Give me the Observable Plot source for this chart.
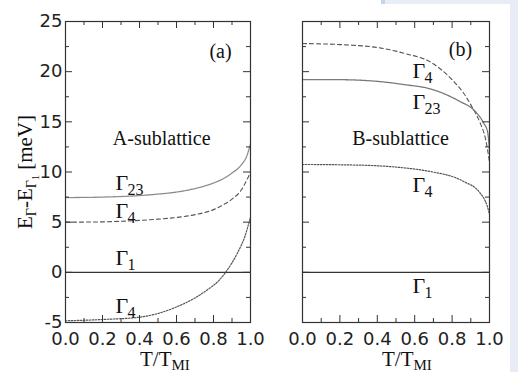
<!DOCTYPE html>
<html><head><meta charset="utf-8">
<script src="https://cdn.jsdelivr.net/npm/d3@7"></script>
<script src="https://cdn.jsdelivr.net/npm/@observablehq/plot@0.6"></script>
<style>
body{margin:0;background:#fff;}
#wrap{position:relative;width:518px;height:372px;overflow:hidden;background:#fff}
#wrap svg{position:absolute;top:0;overflow:visible;background:transparent}
.bg{position:absolute}
</style></head><body><div id="wrap">
<div class="bg" style="left:381px;top:0;width:4px;height:4px;background:#c6d4ea"></div>
<div class="bg" style="left:385px;top:0;width:133px;height:4px;background:#e8edf5"></div>
<div class="bg" style="left:510px;top:0;width:8px;height:372px;background:#e8edf5"></div>
</div>
<script>
// ---- data: panel (a) A-sublattice ----
const aG23T = [0, 0.2, 0.4, 0.5, 0.6, 0.7, 0.8, 0.85, 0.9, 0.95, 0.98, 1.0];
const aG23E = [7.45, 7.5, 7.65, 7.8, 8.0, 8.35, 8.9, 9.3, 9.9, 10.7, 11.6, 12.8];
const aG4uT = [0, 0.2, 0.4, 0.5, 0.6, 0.7, 0.8, 0.85, 0.9, 0.95, 0.98, 1.0];
const aG4uE = [5.0, 5.03, 5.18, 5.3, 5.47, 5.75, 6.25, 6.7, 7.3, 8.2, 9.2, 10.0];
const aG4lT = [0, 0.2, 0.4, 0.5, 0.6, 0.7, 0.77, 0.83, 0.865, 0.9, 0.93, 0.97, 1.0];
const aG4lE = [-4.83, -4.7, -4.47, -4.1, -3.45, -2.55, -1.7, -0.8, 0, 0.95, 1.95, 3.6, 5.5];
const g1T = [0, 1];
const g1E = [0, 0];
// ---- data: panel (b) B-sublattice ----
const bG4uT = [0, 0.2, 0.42, 0.55, 0.68, 0.81, 0.86, 0.915, 0.95, 0.98, 1.0];
const bG4uE = [22.8, 22.7, 22.35, 21.8, 21.0, 19.0, 17.9, 16.2, 14.9, 13.2, 11.0];
const bG23T = [0, 0.2, 0.42, 0.55, 0.68, 0.845, 0.915, 0.968, 0.99, 1.0];
const bG23E = [19.2, 19.2, 19.0, 18.7, 18.3, 17.0, 16.2, 14.9, 14.0, 12.0];
const bG4lT = [0, 0.2, 0.42, 0.55, 0.68, 0.86, 0.95, 0.988, 1.0];
const bG4lE = [10.75, 10.72, 10.6, 10.4, 10.06, 9.07, 7.9, 6.6, 5.8];
// ---- labels ----
const labA = [{x: 0.27, y: 8.9, sub: "23"}, {x: 0.27, y: 6.11, sub: "4"}, {x: 0.27, y: 1.43, sub: "1"}, {x: 0.27, y: -3.31, sub: "4"}];
const labB = [{x: 0.588, y: 20.12, sub: "4"}, {x: 0.588, y: 16.98, sub: "23"}, {x: 0.588, y: 8.7, sub: "4"}, {x: 0.588, y: -1.31, sub: "1"}];
const textA = [{x: 0.52, y: 13.34, t: "A-sublattice"}, {x: 0.838, y: 21.98, t: "(a)"}];
const textB = [{x: 0.524, y: 13.34, t: "B-sublattice"}, {x: 0.845, y: 22.2, t: "(b)"}];
// ---- ticks ----
const xMajor = [0, 0.2, 0.4, 0.6, 0.8, 1.0];
const xMinor = [0.1, 0.3, 0.5, 0.7, 0.9];
const yMajor = [-5, 0, 5, 10, 15, 20, 25];
const yMinor = [-2.5, 2.5, 7.5, 12.5, 17.5, 22.5];

const rows = (T, E) => T.map((t, i) => ({t, e: E[i]}));
const serif = "Liberation Serif";

function panel({width, mL, mR, series, labels, texts, showY}) {
  const H = 372, mT = 21, mB = 50;
  const fh = H - mT - mB, fw = width - mL - mR;
  const tk = "#333";
  const marks = [];
  for (const s of series) {
    marks.push(Plot.line(rows(s.T, s.E), {x: "t", y: "e", curve: "monotone-x", stroke: s.stroke, strokeWidth: s.w || 1.1, strokeDasharray: s.dash}));
  }
  marks.push(
    Plot.frame({stroke: tk, strokeWidth: 1.2}),
    Plot.tickX(xMajor, {x: d => d, insetTop: fh - 7, stroke: tk}),
    Plot.tickX(xMinor, {x: d => d, insetTop: fh - 4, stroke: tk}),
    Plot.tickX(xMajor, {x: d => d, insetBottom: fh - 7, stroke: tk}),
    Plot.tickX(xMinor, {x: d => d, insetBottom: fh - 4, stroke: tk}),
    Plot.tickY(yMajor, {y: d => d, insetRight: fw - 7, stroke: tk}),
    Plot.tickY(yMinor, {y: d => d, insetRight: fw - 4, stroke: tk}),
    Plot.tickY(yMajor, {y: d => d, insetLeft: fw - 7, stroke: tk}),
    Plot.tickY(yMinor, {y: d => d, insetLeft: fw - 4, stroke: tk}),
    Plot.axisX({ticks: xMajor, tickSize: 0, tickPadding: 10, tickFormat: d => d.toFixed(1), fill: "#222", label: null}),
    showY ? Plot.axisY({ticks: yMajor, tickSize: 0, tickPadding: 3, tickFormat: d => `${d}`, fill: "#222", label: null})
          : Plot.axisY({ticks: [], label: null}),
    Plot.text(labels, {x: "x", y: "y", text: () => "Γ", textAnchor: "start", fontFamily: serif, fontSize: 22, fill: "#111"}),
    Plot.text(labels, {x: "x", y: "y", text: "sub", dx: 12, dy: 7, textAnchor: "start", fontFamily: serif, fontSize: 16, fill: "#111"}),
    Plot.text(texts, {x: "x", y: "y", text: "t", fontFamily: serif, fontSize: 20, fill: "#111"})
  );
  return Plot.plot({
    width, height: H, marginLeft: mL, marginRight: mR, marginTop: mT, marginBottom: mB,
    x: {domain: [0, 1], label: null},
    y: {domain: [-5, 25], label: null},
    style: {fontFamily: "DejaVu Sans", fontSize: "18px", background: "transparent", overflow: "visible"},
    marks
  });
}

const solidC = "#333", g23C = "#8a8a8a", dashC = "#555", dotC = "#555";
const pA = panel({width: 265, mL: 65, mR: 15, showY: true, labels: labA, texts: textA, series: [
  {T: g1T, E: g1E, stroke: solidC, w: 1.2},
  {T: aG23T, E: aG23E, stroke: g23C, dash: "1,1", w: 1.3},
  {T: aG4uT, E: aG4uE, stroke: dashC, dash: "4,3"},
  {T: aG4lT, E: aG4lE, stroke: dotC, dash: "1.5,1.5", w: 1.2}
]});
const pB = panel({width: 268, mL: 52, mR: 29, showY: false, labels: labB, texts: textB, series: [
  {T: g1T, E: g1E, stroke: solidC, w: 1.2},
  {T: bG4uT, E: bG4uE, stroke: dashC, dash: "4,3"},
  {T: bG23T, E: bG23E, stroke: "#777", dash: "1,0.8", w: 1.3},
  {T: bG4lT, E: bG4lE, stroke: dotC, dash: "1.5,1.5", w: 1.2}
]});
pA.style.left = "0px";
pB.style.left = "250px";
const wrap = document.getElementById("wrap");
wrap.appendChild(pA);
wrap.appendChild(pB);

function rich(svg, x, y, parts, rotate) {
  const t = d3.select(svg).append("text")
    .attr("font-family", serif).attr("font-size", 21).attr("fill", "#111")
    .attr("transform", `translate(${x},${y})` + (rotate ? ` rotate(${rotate})` : ""))
    .attr("text-anchor", rotate ? "middle" : "start");
  for (const p of parts) {
    const s = t.append("tspan").text(p.t);
    if (p.dy) s.attr("dy", p.dy);
    if (p.fs) s.attr("font-size", p.fs);
  }
}
rich(pA, 32, 172, [
  {t: "E"}, {t: "Γ", dy: 4, fs: 14}, {t: "-E", dy: -4}, {t: "Γ", dy: 4, fs: 14}, {t: "1", dy: 3, fs: 10}, {t: " [meV]", dy: -7}
], -90);
rich(pA, 140, 366, [{t: "T/T"}, {t: "MI", dy: 4, fs: 15}]);
rich(pB, 132, 366, [{t: "T/T"}, {t: "MI", dy: 4, fs: 15}]);
</script></body></html>
